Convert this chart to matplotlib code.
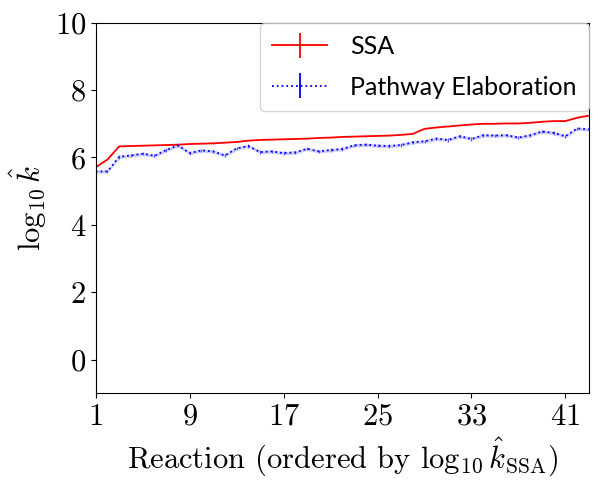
import numpy as np
import matplotlib
matplotlib.use("Agg")
import matplotlib.pyplot as plt
from matplotlib.collections import LineCollection

plt.rcParams['font.family'] = 'serif'
plt.rcParams['font.serif'] = ['cmr10', 'DejaVu Serif']
plt.rcParams['mathtext.fontset'] = 'cm'
plt.rcParams['axes.formatter.use_mathtext'] = True

reactions = np.arange(1, 44)
ssa = [5.71, 5.94, 6.33, 6.34, 6.35, 6.36, 6.37, 6.38, 6.40, 6.41,
       6.42, 6.44, 6.46, 6.50, 6.52, 6.53, 6.54, 6.55, 6.56, 6.58,
       6.59, 6.61, 6.62, 6.63, 6.64, 6.65, 6.67, 6.70, 6.85, 6.89,
       6.92, 6.95, 6.98, 7.00, 7.00, 7.01, 7.01, 7.03, 7.06, 7.08,
       7.08, 7.18, 7.24]
ssa_err = [0.01] * 43
pe = [5.58, 5.59, 6.02, 6.06, 6.11, 6.05, 6.22, 6.36, 6.13, 6.21,
      6.18, 6.06, 6.27, 6.34, 6.16, 6.18, 6.13, 6.15, 6.26, 6.18,
      6.22, 6.25, 6.36, 6.38, 6.35, 6.34, 6.37, 6.45, 6.48, 6.56,
      6.52, 6.63, 6.55, 6.66, 6.65, 6.66, 6.59, 6.66, 6.77, 6.73,
      6.63, 6.86, 6.83]
pe_err = [0.05] * 43
xticks = [1, 9, 17, 25, 33, 41]

fig = plt.figure(figsize=(6.04, 4.93), dpi=100)
ax = fig.add_axes([0.1585, 0.202, 0.8165, 0.752])

ssa_a = np.array(ssa)
pe_a = np.array(pe)
ax.errorbar(reactions, ssa_a, yerr=ssa_err, color='red', linestyle='-',
            linewidth=1.3, elinewidth=0.4, label='SSA')
ax.errorbar(reactions, pe_a, yerr=pe_err, color='blue', ecolor='blue',
            linestyle=':', linewidth=1.3, elinewidth=0.4,
            label='Pathway Elaboration')
ax.fill_between(reactions, pe_a - np.array(pe_err), pe_a + np.array(pe_err),
                color='blue', alpha=0.2, linewidth=0)

ax.set_xlim(1, 43)
ax.set_ylim(-1, 10)
ax.set_xticks(xticks)
ax.set_yticks([0, 2, 4, 6, 8, 10])
ax.tick_params(labelsize=22)
ax.set_xlabel(r"Reaction (ordered by $\log_{10}\hat{k}_{\mathrm{SSA}}$)", fontsize=22)
ax.set_ylabel(r"$\log_{10}\hat{k}$", fontsize=22)

leg = ax.legend(loc='upper right', prop={'family': 'Lato', 'size': 18},
                borderaxespad=0.0, handlelength=2.2, handletextpad=0.9,
                labelspacing=0.7, borderpad=0.5)
for coll in leg.findobj(LineCollection):
    coll.set_linewidth(1.3)

fig.savefig("out.png", dpi=100)
